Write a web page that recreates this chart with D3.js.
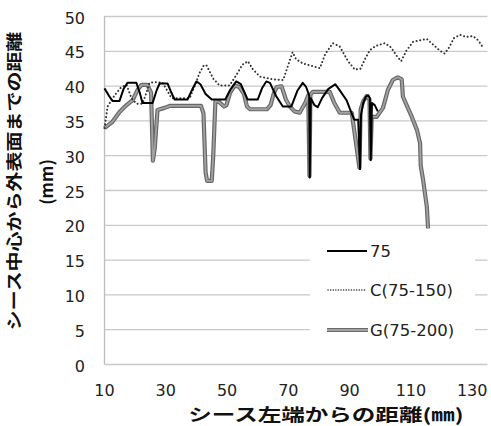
<!DOCTYPE html>
<html><head><meta charset="utf-8">
<script src="https://cdn.jsdelivr.net/npm/d3@7"></script>
<style>
html,body{margin:0;padding:0;background:#fff;}
svg{display:block;}
</style></head>
<body>
<svg id="chart" width="491" height="426"></svg>
<script>
// ---- data ----
const seriesNames = ["75", "C(75-150)", "G(75-200)"];
const xTicks = [10, 30, 50, 70, 90, 110, 130];
const yTicks = [0, 5, 10, 15, 20, 25, 30, 35, 40, 45, 50];

const s75X = [10, 11.5, 12.6, 14.9, 16.2, 17.5, 20.4, 21.5, 22.4, 25.7, 27, 28, 30.6, 31.8, 32.9, 37.1, 38.7, 40, 41.3, 43, 45, 49.4, 51.2, 53, 54.5, 56.7, 60, 61.5, 62.8, 64, 66, 68.2, 71, 73, 74.7, 75.8, 76.8, 77.0, 77.3, 78.5, 79.6, 81, 83, 85.3, 86.5, 89, 90.5, 91.5, 92.8, 93.4, 93.7, 94.5, 95.3, 96.1, 96.6, 96.9, 97.3, 98.2, 99.2];
const s75Y = [39.6, 38.5, 37.8, 37.8, 39.5, 40.4, 40.4, 39, 37.5, 37.5, 39.3, 40.3, 40.3, 39, 38, 38, 39.5, 40.6, 40.2, 38.8, 38, 38, 39.5, 40.6, 40.2, 38, 38, 39.7, 40.6, 40.4, 38.5, 37, 37, 39.3, 40.4, 39.8, 38.6, 26.8, 38.2, 37.2, 36.9, 38.2, 39.5, 40.2, 39.5, 37.9, 36.2, 35.1, 35.1, 28.0, 35.8, 37.6, 38.4, 38.6, 38.2, 29.3, 37.5, 37.2, 36.3];

const sCX = [10, 11, 13.3, 15.5, 17.2, 18.8, 20.4, 22.4, 23.7, 24.7, 26.5, 29, 31.9, 37.8, 39.5, 41, 42.4, 43.3, 45.5, 47.6, 50.8, 53, 55, 56.8, 58.5, 60.7, 65, 68.3, 70, 71.4, 72.5, 74.7, 80.3, 82, 84.5, 86.8, 89.5, 91.7, 93.5, 95, 96.6, 98.5, 101.5, 103.5, 105.5, 106.8, 108.5, 110.7, 113, 115.2, 117.5, 119.5, 121, 122.5, 124, 126, 128, 130.3, 132, 133.5];
const sCY = [33.9, 37, 38.6, 39.8, 40.1, 38.2, 37.4, 37.4, 39, 40.4, 40.5, 40.4, 38.2, 38.2, 40, 41.8, 42.9, 42.9, 41, 40, 40, 41.5, 43, 43.5, 42.3, 41.3, 40.9, 40.8, 43, 44.8, 43.8, 43.2, 42.5, 44.5, 46.1, 45.6, 43.5, 42.3, 42.4, 43.8, 45.1, 45.7, 46.1, 45.5, 44.2, 43.5, 45, 46.3, 46.5, 46.7, 45.8, 45, 44.6, 45.5, 46.8, 47.3, 47, 47.1, 46.5, 45.5];

const sGX = [10, 12.6, 14.9, 17.2, 19.2, 20.8, 22.1, 24, 25.2, 25.8, 26.4, 27.3, 29.6, 31.5, 41.5, 42.3, 43, 43.5, 45.0, 45.5, 46.2, 47.5, 49, 49.8, 51, 52.5, 54, 55.5, 56.5, 57.5, 63, 64.2, 65.2, 66.2, 67.8, 69.2, 70.5, 72, 73.7, 75.5, 76.5, 76.9, 77.2, 78, 83.5, 85, 86.8, 90.7, 93.2, 93.6, 94.5, 95.6, 96.5, 96.8, 97.2, 98.8, 100.9, 102.5, 104.1, 105.7, 107, 107.4, 110.3, 112, 113, 113.2, 114, 114.6, 115.2, 115.6];
const sGY = [33.9, 34.8, 36.2, 37.2, 37.9, 39.4, 40.1, 40.1, 39, 29.2, 31, 36.5, 36.8, 37.1, 37.1, 36, 27.5, 26.3, 26.3, 30, 37.8, 37.6, 37.0, 37.2, 39, 40, 39.8, 38.8, 37, 36.6, 36.6, 37.2, 38.8, 39.8, 39.9, 38, 37, 36.3, 36.1, 37.5, 38.6, 27, 38.7, 39.1, 39.1, 37.5, 36.1, 36.1, 28.2, 36.6, 37.8, 38.5, 38, 29.5, 35.5, 35.5, 36.8, 39.4, 40.8, 41.2, 40.9, 38.4, 35.5, 33.6, 31.7, 28.5, 26.4, 24.5, 22.6, 19.5];

const yTitleLines = ["シース中心から外表面までの距離", "(mm)"];
const xTitle = "シース左端からの距離(㎜)";

// ---- chart ----
const svg = d3.select("#chart");
const x = d3.scaleLinear().domain([10, 135]).range([104.5, 487.5]);
const y = d3.scaleLinear().domain([0, 50]).range([364, 16]);
const fontNum = "'DejaVu Sans', sans-serif";
const fontJP = "'Noto Sans CJK JP', sans-serif";

// gridlines
svg.append("g").selectAll("line").data(yTicks).join("line")
  .attr("x1", x(10)).attr("x2", x(135))
  .attr("y1", d => y(d) + 0.5).attr("y2", d => y(d) + 0.5)
  .attr("stroke", "#c9c9c9").attr("stroke-width", 1.3);
// left axis line
svg.append("line").attr("x1", x(10)).attr("x2", x(10)).attr("y1", y(50)).attr("y2", y(0) + 0.5)
  .attr("stroke", "#bdbdbd").attr("stroke-width", 1.3);

// y tick labels
svg.append("g").selectAll("text").data(yTicks).join("text")
  .attr("x", 85).attr("y", d => y(d) + 2)
  .attr("text-anchor", "end").attr("dominant-baseline", "central")
  .attr("font-family", fontNum).attr("font-size", 16).attr("fill", "#222")
  .text(d => d);
// x tick labels
svg.append("g").selectAll("text").data(xTicks).join("text")
  .attr("x", d => x(d)).attr("y", 396)
  .attr("text-anchor", "middle")
  .attr("font-family", fontNum).attr("font-size", 16).attr("fill", "#222")
  .text(d => d);

// titles
svg.append("text").attr("transform", "translate(326,421) scale(1.07,0.79)")
  .attr("text-anchor", "middle")
  .attr("font-family", fontJP).attr("font-weight", "bold").attr("font-size", 22).attr("fill", "#111")
  .text(xTitle);
svg.append("text").attr("transform", "translate(20,181) rotate(-90) scale(1,0.82)")
  .attr("text-anchor", "middle")
  .attr("font-family", fontJP).attr("font-weight", "bold").attr("font-size", 20).attr("fill", "#111")
  .text(yTitleLines[0]);
svg.append("text").attr("transform", "translate(53,182) rotate(-90)")
  .attr("text-anchor", "middle")
  .attr("font-family", fontJP).attr("font-weight", "bold").attr("font-size", 17).attr("fill", "#111")
  .text(yTitleLines[1]);

// lines
const line = d3.line().x(d => x(d[0])).y(d => y(d[1])).curve(d3.curveLinear);
const dataG = sGX.map((v, i) => [v, sGY[i]]);
const dataC = sCX.map((v, i) => [v, sCY[i]]);
const data75 = s75X.map((v, i) => [v, s75Y[i]]);

svg.append("path").attr("d", line(dataG)).attr("fill", "none")
  .attr("stroke", "#686868").attr("stroke-width", 4.2).attr("stroke-linejoin", "round");
svg.append("path").attr("d", line(dataG)).attr("fill", "none")
  .attr("stroke", "#a2a2a2").attr("stroke-width", 1.8).attr("stroke-linejoin", "round");
svg.append("path").attr("d", line(dataC)).attr("fill", "none")
  .attr("stroke", "#333").attr("stroke-width", 2).attr("stroke-dasharray", "0.1,3.6").attr("stroke-linecap", "round");
svg.append("path").attr("d", line(data75)).attr("fill", "none")
  .attr("stroke", "#000").attr("stroke-width", 2).attr("stroke-linejoin", "round");

// legend
const lg = svg.append("g");
lg.append("rect").attr("x", 310).attr("y", 236).attr("width", 165).attr("height", 114).attr("fill", "#fff");
const rows = [251, 290, 330];
rows.forEach((ry, i) => {
  if (i === 2) {
    lg.append("line").attr("x1", 327).attr("x2", 368).attr("y1", ry).attr("y2", ry).attr("stroke", "#686868").attr("stroke-width", 4.2);
    lg.append("line").attr("x1", 327).attr("x2", 368).attr("y1", ry).attr("y2", ry).attr("stroke", "#a2a2a2").attr("stroke-width", 1.8);
  } else if (i === 1) {
    lg.append("line").attr("x1", 328).attr("x2", 366).attr("y1", ry).attr("y2", ry).attr("stroke", "#333").attr("stroke-width", 1.5).attr("stroke-dasharray", "0.1,2.5").attr("stroke-linecap", "round");
  } else {
    lg.append("line").attr("x1", 327).attr("x2", 367).attr("y1", ry).attr("y2", ry).attr("stroke", "#000").attr("stroke-width", 2);
  }
  lg.append("text").attr("x", 370).attr("y", ry).attr("dominant-baseline", "central")
    .attr("font-family", fontNum).attr("font-size", 16.5).attr("fill", "#222").text(seriesNames[i]);
});
</script>
</body></html>
